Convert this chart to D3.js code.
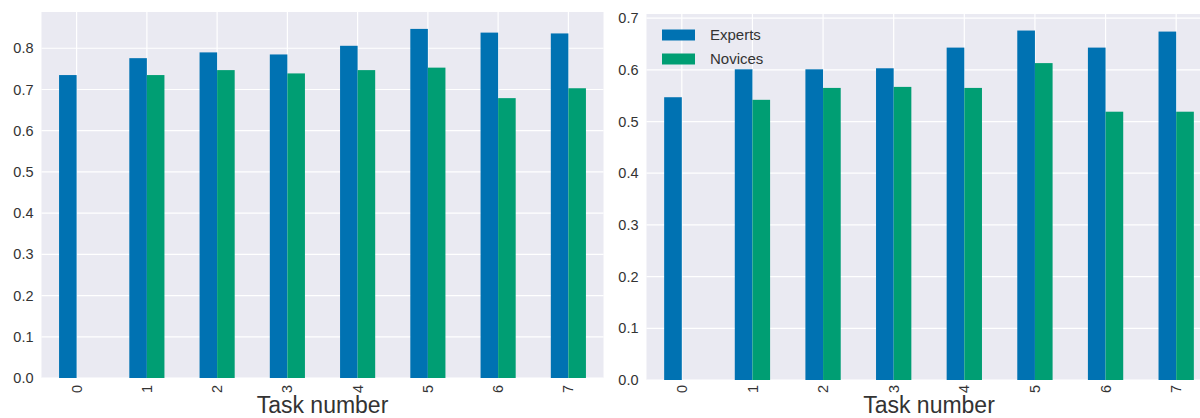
<!DOCTYPE html>
<html><head><meta charset="utf-8">
<script src="https://cdn.jsdelivr.net/npm/d3@7"></script>
<style>body{margin:0;background:#fff;overflow:hidden}svg{display:block}</style>
</head><body>
<svg id="c" width="1200" height="418"></svg>
<script>
const tasks = ["0","1","2","3","4","5","6","7"];
const seriesNames = ["Experts","Novices"];
const leftExperts  = [0.735,0.776,0.790,0.785,0.806,0.847,0.838,0.836];
const leftNovices  = [null,0.735,0.747,0.739,0.747,0.753,0.679,0.703];
const rightExperts = [0.547,0.601,0.601,0.603,0.643,0.676,0.643,0.674];
const rightNovices = [null,0.542,0.565,0.567,0.565,0.613,0.519,0.519];
const leftTicks  = [0,0.1,0.2,0.3,0.4,0.5,0.6,0.7,0.8];
const rightTicks = [0,0.1,0.2,0.3,0.4,0.5,0.6,0.7];
const colors = ["#0072B2","#009E73"];
const font = "'Liberation Sans', Arial, sans-serif";

const svg = d3.select("#c");

function panel(cfg){
  const g = svg.append("g");
  const x = d3.scaleLinear().domain([-0.5, tasks.length-0.5]).range([cfg.x0, cfg.x1]);
  const y = d3.scaleLinear().domain([0, cfg.ymax]).range([cfg.y0, cfg.y1]);
  g.append("rect").attr("x",cfg.x0).attr("y",cfg.y1).attr("width",cfg.x1-cfg.x0).attr("height",cfg.y0-cfg.y1).attr("fill","#EAEAF2");
  g.selectAll(".hg").data(cfg.ticks).enter().append("line")
    .attr("x1",cfg.x0).attr("x2",cfg.x1).attr("y1",d=>y(d)).attr("y2",d=>y(d))
    .attr("stroke","#fff").attr("stroke-width",1.2);
  g.selectAll(".vg").data(tasks).enter().append("line")
    .attr("x1",(d,i)=>x(i)).attr("x2",(d,i)=>x(i)).attr("y1",cfg.y1).attr("y2",cfg.y0)
    .attr("stroke","#fff").attr("stroke-width",1.2);
  const bw = 0.25;
  [cfg.a, cfg.b].forEach((vals, s) => {
    const items = vals.map((v,i)=>({v,i})).filter(d=>d.v!=null);
    g.selectAll(".bar"+s).data(items).enter().append("rect")
      .attr("x",d=>x(d.i - bw + s*bw))
      .attr("width",d=>x(d.i + s*bw) - x(d.i - bw + s*bw))
      .attr("y",d=>y(d.v)).attr("height",d=>y(0)-y(d.v))
      .attr("fill",colors[s]);
  });
  g.selectAll(".yl").data(cfg.ticks).enter().append("text")
    .attr("x",cfg.x0-8).attr("y",d=>y(d)).attr("dy","0.35em")
    .attr("text-anchor","end").attr("font-family",font).attr("font-size",14.5).attr("fill","#333")
    .text(d=>d3.format(".1f")(d));
  g.selectAll(".xl").data(tasks).enter().append("text")
    .attr("transform",(d,i)=>`translate(${x(i)},${cfg.y0+cfg.tickOff}) rotate(-90)`)
    .attr("text-anchor","end").attr("dy","0.35em")
    .attr("font-family",font).attr("font-size",14.5).attr("fill","#333").text(d=>d);
  g.append("text").attr("x",(cfg.x0+cfg.x1)/2).attr("y",cfg.labelY)
    .attr("text-anchor","middle").attr("font-family",font).attr("font-size",23).attr("fill","#333")
    .text("Task number");
  return {g,x,y};
}

panel({x0:41.5,x1:603.5,y0:378,y1:12,ymax:0.888,ticks:leftTicks,a:leftExperts,b:leftNovices,labelY:412.5,tickOff:7});
panel({x0:646.5,x1:1211.5,y0:380,y1:14,ymax:0.708,ticks:rightTicks,a:rightExperts,b:rightNovices,labelY:412.5,tickOff:5});

const lg = svg.append("g");
seriesNames.forEach((n,i)=>{
  lg.append("rect").attr("x",662).attr("y",29.5+i*24).attr("width",33).attr("height",11).attr("fill",colors[i]);
  lg.append("text").attr("x",710).attr("y",35+i*24).attr("dy","0.35em")
    .attr("font-family",font).attr("font-size",15).attr("fill","#333").text(n);
});
</script>
</body></html>
